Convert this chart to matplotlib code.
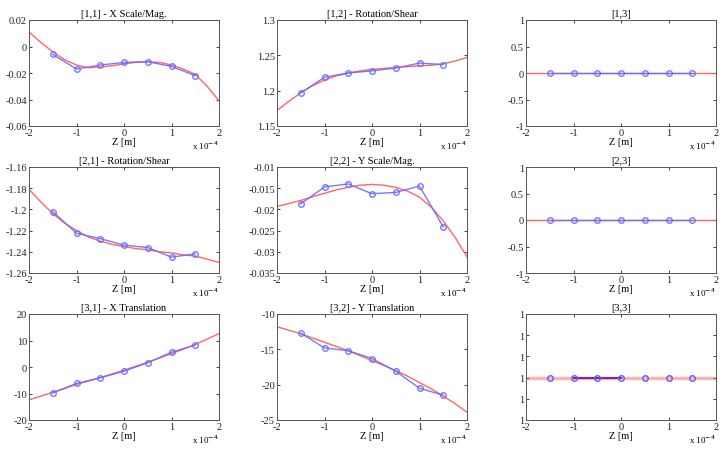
import matplotlib
matplotlib.use("Agg")
import matplotlib.pyplot as plt
import numpy as np

plt.rcParams['font.family'] = ['Liberation Serif', 'DejaVu Serif']
plt.rcParams['font.size'] = 7.5

# sample positions (x 1e-4 m)
z_pts = [-1.5, -1.0, -0.5, 0.0, 0.5, 1.0, 1.5]
z_fit = [-2.0, -1.75, -1.5, -1.25, -1.0, -0.75, -0.5, -0.25, 0.0,
         0.25, 0.5, 0.75, 1.0, 1.25, 1.5, 1.75, 2.0]

titles = ["[1,1] - X Scale/Mag.", "[1,2] - Rotation/Shear", "[1,3]",
          "[2,1] - Rotation/Shear", "[2,2] - Y Scale/Mag.", "[2,3]",
          "[3,1] - X Translation", "[3,2] - Y Translation", "[3,3]"]

m11_pts = [-0.006, -0.017, -0.014, -0.012, -0.0115, -0.015, -0.022]
m11_fit = [0.011, 0.003, -0.004, -0.010, -0.014, -0.016, -0.0155, -0.0145, -0.013,
           -0.012, -0.0115, -0.012, -0.014, -0.017, -0.021, -0.030, -0.041]

m12_pts = [1.197, 1.219, 1.225, 1.228, 1.232, 1.239, 1.237]
m12_fit = [1.172, 1.185, 1.197, 1.207, 1.215, 1.221, 1.225, 1.228, 1.230,
           1.2315, 1.233, 1.234, 1.235, 1.236, 1.238, 1.242, 1.247]

m21_pts = [-1.202, -1.2225, -1.2276, -1.2337, -1.236, -1.245, -1.242]
m21_fit = [-1.181, -1.193, -1.204, -1.213, -1.220, -1.226, -1.230, -1.233, -1.235,
           -1.237, -1.238, -1.240, -1.241, -1.243, -1.244, -1.247, -1.250]

m22_pts = [-0.0187, -0.0147, -0.0140, -0.0163, -0.0160, -0.0145, -0.0241]
m22_fit = [-0.0193, -0.0186, -0.0179, -0.0170, -0.0162, -0.0154, -0.0148, -0.0143, -0.0141,
           -0.0143, -0.0148, -0.0157, -0.0171, -0.0195, -0.0227, -0.0266, -0.0312]

m31_pts = [-9.8, -6.2, -4.1, -1.6, 1.6, 5.6, 8.3]
m31_fit = [-12.4, -11.0, -9.5, -8.1, -6.6, -5.3, -4.0, -2.6, -1.2,
           0.3, 1.8, 3.4, 5.0, 6.7, 8.5, 10.5, 12.6]

m32_pts = [-12.7, -14.8, -15.2, -16.3, -18.1, -20.5, -21.5]
m32_fit = [-11.8, -12.3, -12.8, -13.4, -14.0, -14.6, -15.2, -15.9, -16.6,
           -17.3, -18.0, -18.8, -19.7, -20.6, -21.6, -22.7, -23.9]

zero_pts = [0, 0, 0, 0, 0, 0, 0]
zero_fit = [0] * len(z_fit)
one_pts = [1, 1, 1, 1, 1, 1, 1]
one_fit = [1] * len(z_fit)

pts = [m11_pts, m12_pts, zero_pts, m21_pts, m22_pts, zero_pts, m31_pts, m32_pts, one_pts]
fits = [m11_fit, m12_fit, zero_fit, m21_fit, m22_fit, zero_fit, m31_fit, m32_fit, one_fit]

eps = 1e-9
ylims = [(-0.06, 0.02), (1.15, 1.3), (-1, 1),
         (-1.26, -1.16), (-0.035, -0.01), (-1, 1),
         (-20, 20), (-25, -10), (1 - 2 * eps, 1 + 3 * eps)]
yticks = [[-0.06, -0.04, -0.02, 0, 0.02], [1.15, 1.2, 1.25, 1.3], [-1, -0.5, 0, 0.5, 1],
          [-1.26, -1.24, -1.22, -1.2, -1.18, -1.16],
          [-0.035, -0.03, -0.025, -0.02, -0.015, -0.01], [-1, -0.5, 0, 0.5, 1],
          [-20, -10, 0, 10, 20], [-25, -20, -15, -10], None]
yticklabels = [["-0.06", "-0.04", "-0.02", "0", "0.02"], ["1.15", "1.2", "1.25", "1.3"],
               ["-1", "-0.5", "0", "0.5", "1"],
               ["-1.26", "-1.24", "-1.22", "-1.2", "-1.18", "-1.16"],
               ["-0.035", "-0.03", "-0.025", "-0.02", "-0.015", "-0.01"],
               ["-1", "-0.5", "0", "0.5", "1"],
               ["-20", "-10", "0", "10", "20"], ["-25", "-20", "-15", "-10"], None]

W, H = 725, 452
fig = plt.figure(figsize=(W / 100, H / 100), dpi=100)
lefts = [29, 277, 526]
tops = [21, 168, 315]
aw, ah = 190, 106

for i in range(9):
    r, c = divmod(i, 3)
    ax = fig.add_axes([lefts[c] / W, (H - tops[r] - ah) / H, aw / W, ah / H])
    lw_fit = 2.5 if i == 8 else 1.0
    a_fit = 0.45 if i == 8 else 0.9
    ax.plot(z_fit, fits[i], color='#ff5555', lw=lw_fit, alpha=a_fit, zorder=2)
    if i == 8:
        ax.plot(z_pts[1:4], pts[i][1:4], color='#7a2aa0', lw=1.5, zorder=3)
        ax.plot(z_pts, pts[i], 'o', color='#5b5bff', mfc='none', ms=4, mew=1, zorder=4)
    else:
        ax.plot(z_pts, pts[i], '-o', color='#6a6aff', mfc='none', ms=4, mew=1,
                lw=1.0, alpha=0.9, zorder=3)
    ax.set_xlim(-2, 2)
    ax.set_ylim(*ylims[i])
    ax.set_xticks([-2, -1, 0, 1, 2])
    ax.set_xticklabels(["-2", "-1", "0", "1", "2"])
    if yticks[i] is not None:
        ax.set_yticks(yticks[i])
        ax.set_yticklabels(yticklabels[i])
    else:
        lo, hi = ylims[i]
        tk = np.linspace(lo, hi, 6)
        ax.set_yticks(tk)
        ax.set_yticklabels(["1"] * 6)
    ax.tick_params(direction='in', length=2.5, width=0.6, top=True, right=True,
                   pad=1.5, labelsize=7.5, colors='#222222')
    for s in ax.spines.values():
        s.set_color('#555555')
        s.set_linewidth(0.7)
    ax.set_title(titles[i], fontsize=7.5, pad=3)
    ax.set_xlabel("Z [m]", fontsize=7.5, labelpad=0)
    ax.text(1.0, -0.12, r"x 10$^{-4}$", transform=ax.transAxes, ha='right',
            va='top', fontsize=6.5)

fig.savefig("out.png", dpi=100)
